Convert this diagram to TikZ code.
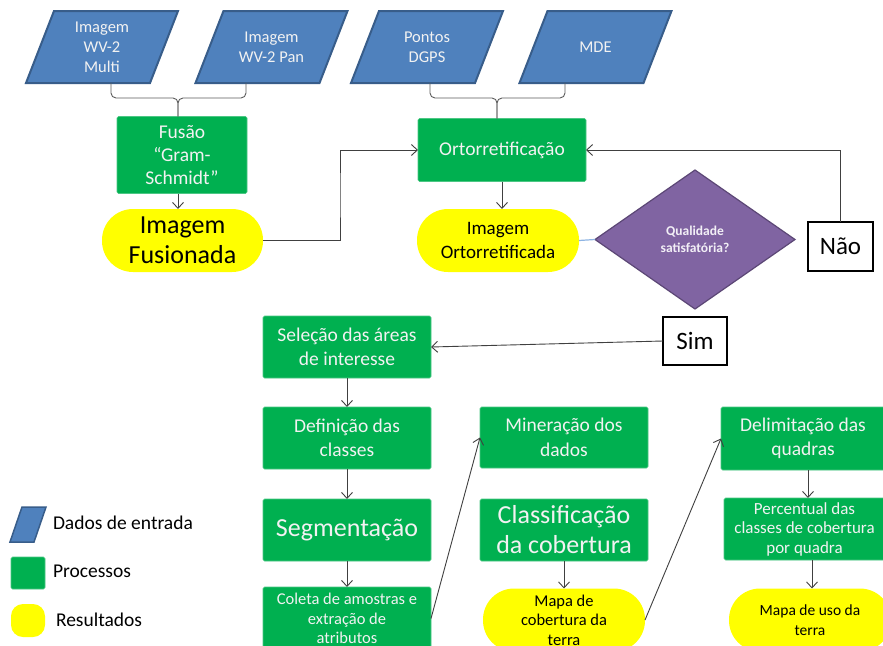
\documentclass[tikz,border=0pt]{standalone}
\usepackage{fontspec}
\setmainfont{Carlito}
\usetikzlibrary{shapes.geometric,shapes.misc,arrows.meta,calc,backgrounds}
\definecolor{cblue}{HTML}{4F81BD}
\definecolor{cbluedark}{HTML}{385D8A}
\definecolor{cgreen}{HTML}{00B050}
\definecolor{cgreenedge}{HTML}{4CC784}
\definecolor{cyellow}{HTML}{FFFF00}
\definecolor{cpurple}{HTML}{8064A2}
\definecolor{cpurpledark}{HTML}{5C4776}
\definecolor{cline}{HTML}{404040}
\definecolor{clblue}{HTML}{8EB4E3}
\definecolor{ctextw}{HTML}{F2F2F2}
\newcommand{\fs}[2]{\fontsize{#1}{#2}\selectfont}
\newcommand{\paral}[2]{\draw[paradraw] ([xshift=#2]#1.north west) -- ([xshift=#2]#1.north east) -- ([xshift=-#2]#1.south east) -- ([xshift=-#2]#1.south west) -- cycle;}
\begin{document}
\begin{tikzpicture}[x=1pt,y=-1pt,
 every node/.style={inner sep=0pt, outer sep=0pt, align=center},
 para/.style={rectangle, text=ctextw, font=\fs{16.5}{20}, minimum width=124, minimum height=72},
 paradraw/.style={fill=cblue, draw=cbluedark, line width=2pt, line join=miter},
 proc/.style={rectangle, fill=cgreen, draw=cgreenedge, line width=0.6pt, rounded corners=1.5pt, text=ctextw,
   font=\fs{19.5}{24.5}, minimum width=168, minimum height=62},
 result/.style={rectangle, fill=cyellow, rounded corners=31pt, text=black, minimum width=162, minimum height=63},
 decision/.style={diamond, fill=cpurple, draw=cpurpledark, line width=1.2pt, text=white!90!cpurple, font=\bfseries\fs{13.5}{16.5},
   minimum width=200, minimum height=139},
 answer/.style={rectangle, draw=black, line width=2pt, fill=white, text=black, font=\fs{25}{28}},
 conn/.style={draw=cline, line width=0.9pt, -{Straight Barb[length=6pt,width=11pt]}},
 bracel/.style={draw=cline!85, line width=0.9pt, rounded corners=5pt},
 legtext/.style={anchor=west, text=black, font=\fs{19.5}{22}}
]
\useasboundingbox (0,0) rectangle (883,645);
\clip (0,0) rectangle (883,645);

% input data
\node[para] (p1) at (102,47) {Imagem\\WV-2\\Multi};
\node[para] (p2) at (271.5,47) {Imagem\\WV-2 Pan};
\node[para] (p3) at (427,47) {Pontos\\DGPS};
\node[para] (p4) at (595.5,47) {MDE};

% processes and results
\node[proc, minimum width=130, minimum height=77, font=\fs{19.5}{23}] (fus) at (182,155) {Fusão\\“Gram-\\Schmidt”};
\node[proc, minimum height=63, font=\fs{19.5}{24}] (orto) at (502,150) {Ortorretificação};
\node[result, minimum width=161, font=\fs{26}{30}] (imgf) at (182.5,240.5) {Imagem\\Fusionada};
\node[result, font=\fs{19}{24}] (imgo) at (498,240.5) {Imagem\\Ortorretificada};
\node[decision] (dec) at (695,239.5) {Qualidade\\satisfatória?};
\node[answer, minimum width=65, minimum height=49] (nao) at (840.5,246.5) {Não};
\node[answer, minimum width=64, minimum height=48] (sim) at (695,341) {Sim};

\node[proc] (sel) at (347,347) {Seleção das áreas\\de interesse};
\node[proc] (def) at (347,438) {Definição das\\classes};
\node[proc, font=\fs{26}{30}] (seg) at (347,530) {Segmentação};
\node[proc, minimum height=63, font=\fs{16.5}{19.5}] (col) at (347,618.5) {Coleta de amostras e\\extração de\\atributos};
\node[proc, minimum height=61] (min) at (564,437.5) {Mineração dos\\dados};
\node[proc, font=\fs{26}{30}] (cla) at (564,530) {Classificação\\da cobertura};
\node[result, font=\fs{16.5}{19.5}] (mapc) at (564,620) {Mapa de\\cobertura da\\terra};
\node[proc, minimum width=164, minimum height=63] (del) at (803,438.5) {Delimitação das\\quadras};
\node[proc, minimum width=161, font=\fs{17}{19.5}] (per) at (804.5,529) {Percentual das\\classes de cobertura\\por quadra};
\node[result, font=\fs{15.5}{20}] (mapu) at (810,620) {Mapa de uso da\\terra};

% legend
\node[para, minimum width=24, minimum height=35] (lg1) at (28,524.5) {};
\node[proc, minimum width=34, minimum height=32] (lg2) at (28,573) {};
\node[result, minimum width=34, minimum height=33, rounded corners=12pt] (lg3) at (28,620.5) {};
\node[legtext] (lt1) at (53,523) {Dados de entrada};
\node[legtext] (lt2) at (53,571) {Processos};
\node[legtext] (lt3) at (56,620) {Resultados};

\begin{scope}[on background layer]
\fill[white] (0,0) rectangle (883,645);
\paral{p1}{14}
\paral{p2}{14}
\paral{p3}{14}
\paral{p4}{14}
\begin{scope}[paradraw/.append style={line width=1.5pt}]
\paral{lg1}{6}
\end{scope}
\end{scope}

% braces
\coordinate (b1l) at (111,83);
\coordinate (b1r) at (246,83);
\coordinate (b1m) at (178,98);
\coordinate (b2l) at (430,83);
\coordinate (b2r) at (565,83);
\coordinate (b2m) at (497,98);
\draw[bracel] (b1l) |- (b1m) -- (b1m |- fus.north);
\draw[bracel] (b1r) |- (b1m) -- (b1m |- fus.north);
\draw[bracel] (b2l) |- (b2m) -- (b2m |- orto.north);
\draw[bracel] (b2r) |- (b2m) -- (b2m |- orto.north);

% connectors
\coordinate (jx) at (340,195);
\coordinate (a1) at (808,0);
\coordinate (a2) at (812,0);
\draw[conn] (fus.south -| b1m) -- (b1m |- imgf.north);
\draw[conn] (imgf.east) -| (jx) |- (orto.west);
\draw[conn] (orto.south) -- (orto.south |- imgo.north);
\draw[draw=clblue, line width=1.2pt] (imgo.east) -- (dec.west);
\draw[conn] (nao.north) |- (orto.east);
\draw[conn] (sim.west) -- (sel.east);
\draw[conn] (sel.south) -- (def.north);
\draw[conn] (def.south) -- (seg.north);
\draw[conn] (seg.south) -- (col.north);
\draw[conn] (col.east) -- (min.west);
\draw[conn] (cla.south) -- (mapc.north);
\draw[conn] (mapc.east) -- (del.west);
\draw[conn] (del.south -| a1) -- (per.north -| a1);
\draw[conn] (per.south -| a2) -- (mapu.north -| a2);
\end{tikzpicture}
\end{document}
